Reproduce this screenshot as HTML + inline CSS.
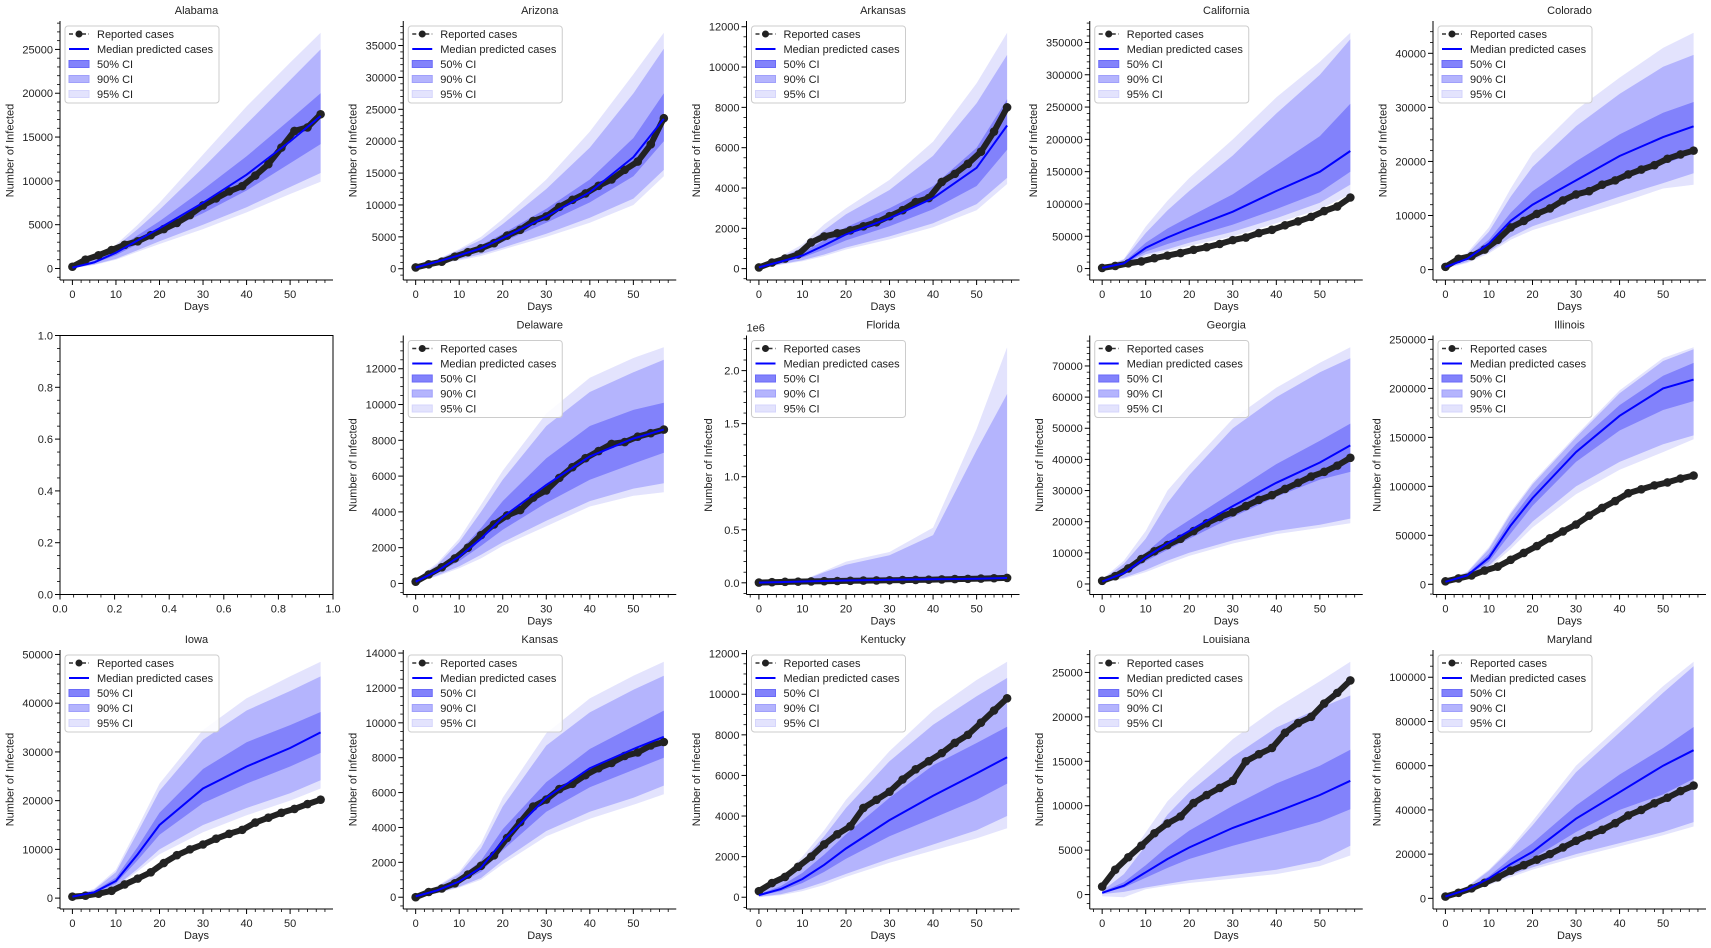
<!DOCTYPE html>
<html><head><meta charset="utf-8">
<style>
body{margin:0;background:#fff;}
svg{display:block;font-family:"Liberation Sans",sans-serif;}
</style></head>
<body>
<svg id="fig" width="1711" height="948" viewBox="0 0 1711 948" xmlns="http://www.w3.org/2000/svg"></svg>
<script>
// Days at which band/median values are sampled, and days for reported cases
const bandDays = [0,5,10,15,20,30,40,50,57];
const repDays = [0,3,6,9,12,15,18,21,24,27,30,33,36,39,42,45,48,51,54,57];
const xTicks = [0,10,20,30,40,50];

const stateNames = ["Alabama","Arizona","Arkansas","California","Colorado","Delaware","Florida","Georgia","Illinois","Iowa","Kansas","Kentucky","Louisiana","Maryland"];
const stateCols = [0,1,2,3,4,1,2,3,4,0,1,2,3,4];
const stateRows = [0,0,0,0,0,1,1,1,1,2,2,2,2,2];
const yTickStep = [5000,5000,2000,50000,10000,2000,500000,10000,50000,10000,2000,2000,5000,20000];

const reported = [
[200,1000,1500,2100,2700,3100,3800,4500,5200,6100,7200,8000,8800,9400,10600,11900,13800,15700,16100,17600],
[200,700,1100,1900,2600,3200,4000,5200,6100,7500,8200,9700,10800,11800,13000,14000,15500,16800,19500,23600],
[60,300,500,700,1300,1600,1750,1900,2100,2300,2600,2900,3300,3500,4300,4700,5200,5800,6800,8000],
[1000,4000,8000,11000,16000,20000,24000,29000,33000,38000,44000,48000,55000,60000,67000,73000,80000,89000,96000,110000],
[500,2000,2500,3700,5500,7800,9000,10300,11300,12800,13900,14500,15700,16500,17600,18500,19300,20500,21300,22000],
[100,500,900,1400,2000,2700,3300,3800,4100,4800,5200,5900,6500,7000,7400,7800,7900,8200,8400,8600],
[2000,6000,9000,11000,13000,15000,17000,19000,21000,22000,24000,26000,27000,29000,32000,35000,37000,40000,43000,46000],
[1000,2500,5000,8000,10500,12500,14500,17000,19500,21500,23000,25000,27000,28500,30500,32500,34500,36000,38000,40500],
[3000,6000,9000,14000,18000,25000,32000,39000,47000,54000,61000,70000,78000,85000,93000,97000,101000,104000,108000,111000],
[300,500,900,1500,2800,4000,5300,7200,8800,10000,11000,12200,13200,14000,15500,16500,17500,18300,19300,20200],
[0,300,500,800,1300,1800,2400,3400,4300,5200,5600,6200,6500,7000,7400,7700,8100,8300,8700,8900],
[300,700,1000,1500,2000,2600,3100,3500,4400,4800,5200,5800,6300,6700,7100,7600,8000,8600,9200,9800],
[900,2800,4200,5500,6900,8000,8800,10300,11200,12000,12800,15000,15800,16500,18200,19300,20000,21500,22700,24100],
[800,2500,4500,7000,9500,12500,15000,17500,20000,23000,26000,28500,31000,34000,37500,40000,43000,45500,48500,51000]
];
const median = [
[100,700,1800,3200,4600,7500,10700,14500,17400],
[200,1100,2100,3200,4800,8200,12000,17500,23500],
[60,350,650,1150,1700,2500,3500,5000,7100],
[1000,8000,32000,48000,62000,88000,120000,150000,182000],
[500,2000,4800,9000,12000,16500,21000,24500,26500],
[100,700,1500,2500,3700,5500,7100,8100,8600],
[2000,7000,12000,17000,22000,28000,33000,38000,45000],
[800,3500,8500,13000,17000,25000,32500,39000,44500],
[2500,9000,27000,60000,88000,135000,172000,200000,209000],
[300,1200,3500,9000,15000,22500,27000,30800,34000],
[50,400,900,1700,3200,5700,7400,8500,9200],
[100,400,900,1600,2400,3800,5000,6100,6900],
[200,1000,2500,4000,5300,7500,9300,11200,12800],
[800,4000,9000,15500,21000,36000,48000,60000,67000]
];
const hi50 = [
[150,900,2100,3800,5400,9000,12800,17000,20000],
[250,1200,2400,3700,5500,9400,14000,20500,27500],
[80,420,800,1400,2050,3000,4100,6000,8400],
[1200,10000,40000,62000,80000,115000,160000,205000,255000],
[600,2300,5500,10500,14500,20000,25000,29000,31000],
[150,850,1800,3100,4600,7000,8800,9700,10100],
[2400,8400,14400,20400,26400,33600,39600,45600,54000],
[1000,4200,10000,16000,20500,29500,38500,46000,51500],
[3000,10500,31000,66000,95000,143000,183000,213000,226000],
[350,1400,4200,10500,17500,26500,32000,35500,38200],
[80,480,1100,2100,3900,6600,8500,9800,10700],
[150,550,1200,2100,3100,4900,6500,7600,8400],
[300,1400,3300,5400,7200,10000,12500,14500,16300],
[900,4500,10000,18000,25000,42000,56000,68000,77500]
];
const lo50 = [
[100,600,1500,2800,4000,6300,8900,12000,14200],
[150,1000,1900,2900,4200,7200,10400,14500,20000],
[50,300,550,950,1400,2100,2950,4100,5900],
[800,6500,26000,38000,48000,68000,92000,118000,150000],
[400,1800,4200,7800,10300,13500,16500,19500,21500],
[80,600,1250,2100,3000,4500,5800,6700,7300],
[1600,5600,9600,13600,17600,22400,26400,30400,36000],
[700,3000,7300,11000,14500,21500,28000,33500,36000],
[2200,8000,23000,52000,80000,125000,157000,178000,187000],
[250,1000,3000,7800,13000,19500,23500,27000,29800],
[40,350,800,1450,2700,4900,6300,7300,8000],
[80,300,700,1250,1900,3000,3900,4800,5600],
[150,800,1900,3000,4000,5500,6800,8200,9600],
[700,3500,8000,13500,18000,30000,40000,47000,54000]
];
const hi90 = [
[200,1100,2500,4500,6700,11500,16500,21500,25000],
[300,1400,2900,4500,7000,12500,19000,27500,34500],
[100,550,1050,1900,2700,3900,5600,8200,10600],
[1500,14000,55000,90000,120000,175000,240000,300000,355000],
[700,2800,7000,13500,19000,26500,32500,37500,39700],
[200,1050,2300,4000,5800,8800,10700,11800,12500],
[3000,10000,20000,100000,170000,260000,450000,1250000,1780000],
[1300,6500,14500,26000,35000,50000,60000,68000,72500],
[3500,12000,36000,72000,102000,150000,195000,228000,240000],
[450,1700,5300,13500,22000,32500,38500,42500,45500],
[120,600,1350,2800,5200,8700,10600,11900,12700],
[200,800,1800,3000,4400,6700,8500,9900,10800],
[400,2300,5500,9000,11500,15500,18800,21000,22400],
[1000,5000,12500,22000,33000,57000,75000,93000,105000]
];
const lo90 = [
[50,450,1100,2100,3100,5000,7000,9300,10900],
[100,800,1500,2300,3300,5500,8000,11000,15500],
[30,220,420,700,1050,1600,2250,3200,4500],
[600,5500,22000,30000,40000,57000,78000,102000,130000],
[300,1400,3300,6000,8000,10800,13500,16000,17800],
[60,450,950,1600,2300,3500,4600,5300,5600],
[1000,4000,8000,10000,12000,15000,18000,20000,22000],
[500,2000,4500,7500,10000,14000,17000,19000,21000],
[1800,7000,19000,40000,64000,100000,125000,143000,152000],
[200,800,2400,6000,10000,15000,18500,21500,24200],
[20,250,600,1100,2100,3800,4900,5700,6400],
[20,150,400,750,1150,1900,2600,3300,4000],
[50,300,800,1200,1600,2200,2800,3800,5500],
[600,3000,6500,10500,14000,20000,25000,30000,34500]
];
const hi95 = [
[250,1200,2700,5000,7500,13000,18500,23500,26900],
[350,1500,3100,5000,7800,14000,21500,30500,37000],
[120,600,1200,2200,3000,4400,6300,9200,11700],
[1700,15000,65000,105000,140000,200000,265000,320000,365000],
[800,3100,7800,15000,21500,29500,35500,41000,43800],
[250,1150,2500,4400,6300,9500,11500,12600,13200],
[3500,12000,25000,110000,200000,290000,520000,1450000,2220000],
[1500,7500,17000,30000,38000,53000,63000,71000,76000],
[3800,13000,38000,74000,104000,152000,198000,231000,242000],
[500,1900,5800,14500,23500,34500,41000,45500,48500],
[150,650,1450,3100,5700,9400,11400,12700,13500],
[250,900,2000,3300,4800,7200,9200,10700,11600],
[500,3500,7000,10500,13000,17500,21000,24000,26200],
[1100,5500,13000,23000,35000,60000,78000,96000,107000]
];
const lo95 = [
[30,400,1000,1900,2800,4500,6400,8500,9900],
[80,700,1300,2000,3000,5000,7200,10000,14500],
[20,190,370,620,950,1450,2050,2900,4200],
[500,5000,19000,27000,35000,50000,70000,92000,115000],
[250,1200,3000,5500,7300,9800,12300,15000,15700],
[40,400,850,1400,2100,3200,4300,4900,5100],
[800,3000,6000,8000,10000,12000,15000,17000,19000],
[400,1700,3800,6500,9000,13000,16000,18000,19500],
[1600,6500,17000,36000,58000,92000,117000,135000,148000],
[180,700,2200,5500,9000,13500,17000,20000,22500],
[10,220,550,1000,1900,3500,4500,5300,5900],
[0,100,300,600,1000,1700,2300,2900,3400],
[-200,-300,600,1000,1300,1800,2300,3200,4400],
[500,2800,6000,9500,13000,18500,23500,28500,32500]
];

const NS = "http://www.w3.org/2000/svg";
const svg = document.getElementById('fig');
const AX_W = 273, AX_H = 259;
function colLeft(c){ return 60 + 343.25*c; }
function rowTop(r){ return 21 + 314.5*r; }
function mk(tag, attrs, parent){
  const e = document.createElementNS(NS, tag);
  for (const k in attrs) e.setAttribute(k, attrs[k]);
  (parent||svg).appendChild(e);
  return e;
}
function txt(s, attrs, parent){ const t = mk('text', attrs, parent); t.textContent = s; return t; }

function drawEmpty(){
  const L = colLeft(0), T = rowTop(1);
  const g = mk('g', {});
  
  
  mk('rect', {x:L, y:T, width:AX_W, height:AX_H, fill:'none', stroke:'#000', 'stroke-width':1}, g);
  for (let i=0;i<=20;i++){
    const v = i*0.05, major = i%4===0;
    const len = major?5:3;
    const x = L + v*AX_W, y = T + AX_H - v*AX_H;
    mk('line', {x1:x, y1:T+AX_H, x2:x, y2:T+AX_H+len, stroke:'#000', 'stroke-width':major?1:0.8}, g);
    mk('line', {x1:L-len, y1:y, x2:L, y2:y, stroke:'#000', 'stroke-width':major?1:0.8}, g);
    if (major){
      txt(v.toFixed(1), {x:x, y:T+AX_H+18, 'text-anchor':'middle', 'font-size':11, fill:'#222'}, g);
      txt(v.toFixed(1), {x:L-7, y:y+4, 'text-anchor':'end', 'font-size':11, fill:'#222'}, g);
    }
  }
}

function drawPanel(i){
  const L = colLeft(stateCols[i]), T = rowTop(stateRows[i]);
  const g = mk('g', {});
  
  
  let dmin = Math.min(...lo95[i], ...reported[i]);
  let dmax = Math.max(...hi95[i], ...reported[i]);
  const rng = dmax - dmin;
  const ymin = dmin - 0.05*rng, ymax = dmax + 0.05*rng;
  const xs = d => L + (d + 2.85) / 62.7 * AX_W;
  const ys = v => T + AX_H - (v - ymin) / (ymax - ymin) * AX_H;

  function band(hi, lo, fill, name){
    let p = bandDays.map((d,k)=>xs(d).toFixed(1)+','+ys(hi[k]).toFixed(1));
    for (let k=bandDays.length-1;k>=0;k--) p.push(xs(bandDays[k]).toFixed(1)+','+ys(lo[k]).toFixed(1));
    const e = mk('polygon', {points:p.join(' '), fill:fill, stroke:'none'}, g);
    
    
  }
  band(hi95[i], lo95[i], '#e3e3fd', 'ci95-band');
  band(hi90[i], lo90[i], '#b4b4fd', 'ci90-band');
  band(hi50[i], lo50[i], '#8282fb', 'ci50-band');

  // reported cases
  const rp = repDays.map((d,k)=>xs(d).toFixed(1)+','+ys(reported[i][k]).toFixed(1)).join(' ');
  const rl = mk('polyline', {points:rp, fill:'none', stroke:'#222', 'stroke-width':6, 'stroke-linejoin':'round', 'stroke-linecap':'round'}, g);
  
  
  repDays.forEach((d,k)=>{
    const c = mk('circle', {cx:xs(d), cy:ys(reported[i][k]), r:4.3, fill:'#222'}, g);
    
    
  });
  // median
  const mp = bandDays.map((d,k)=>xs(d).toFixed(1)+','+ys(median[i][k]).toFixed(1)).join(' ');
  const ml = mk('polyline', {points:mp, fill:'none', stroke:'#0000ff', 'stroke-width':2}, g);
  
  

  // spines
  mk('line', {x1:L, y1:T, x2:L, y2:T+AX_H, stroke:'#000', 'stroke-width':1}, g);
  mk('line', {x1:L, y1:T+AX_H, x2:L+AX_W, y2:T+AX_H, stroke:'#000', 'stroke-width':1}, g);

  // x ticks
  for (let d=-2; d<=58; d+=2){
    const major = d%10===0 && d>=0 && d<=50;
    mk('line', {x1:xs(d), y1:T+AX_H, x2:xs(d), y2:T+AX_H+(major?5:3), stroke:'#000', 'stroke-width':major?1:0.8}, g);
  }
  xTicks.forEach(d=>txt(String(d), {x:xs(d), y:T+AX_H+18, 'text-anchor':'middle', 'font-size':11, fill:'#222'}, g));
  const xl = txt('Days', {x:L+AX_W/2, y:T+AX_H+30, 'text-anchor':'middle', 'font-size':11, fill:'#222'}, g);
  
  

  // y ticks
  const step = yTickStep[i];
  const lead = String(step)[0];
  const minor = lead==='2' ? step/4 : step/5;
  const isF = stateNames[i]==='Florida';
  let maxw = 0;
  for (let v = Math.ceil(ymin/minor)*minor; v <= ymax; v += minor){
    const isMaj = Math.abs(v/step - Math.round(v/step)) < 1e-6;
    mk('line', {x1:L-(isMaj?5:3), y1:ys(v), x2:L, y2:ys(v), stroke:'#000', 'stroke-width':isMaj?1:0.8}, g);
    if (isMaj){
      const s = isF ? (v/1e6).toFixed(1) : String(Math.round(v));
      maxw = Math.max(maxw, s.length*6.1);
      txt(s, {x:L-7, y:ys(v)+4, 'text-anchor':'end', 'font-size':11, fill:'#222'}, g);
    }
  }
  if (isF) txt('1e6', {x:L, y:T-4, 'font-size':11, fill:'#222'}, g);
  const yx = L - 7 - maxw - 12;
  const yl = txt('Number of Infected', {x:yx, y:T+AX_H/2, 'text-anchor':'middle', 'font-size':11, fill:'#222', transform:`rotate(-90 ${yx} ${T+AX_H/2})`, 'dominant-baseline':'middle'}, g);
  
  

  // title
  const tt = txt(stateNames[i], {x:L+AX_W/2, y:T-7, 'text-anchor':'middle', 'font-size':11, fill:'#222'}, g);
  
  

  // legend
  const lg = mk('g', {}, g);
  
  
  const lx = L+5, ly = T+5;
  mk('rect', {x:lx, y:ly, width:154, height:77, rx:3, fill:'#fff', 'fill-opacity':0.85, stroke:'#ccc', 'stroke-width':1}, lg);
  const labels = ['Reported cases','Median predicted cases','50% CI','90% CI','95% CI'];
  labels.forEach((s,k)=>{
    const cy = ly + 8 + 15*k;
    if (k===0){
      mk('line', {x1:lx+4, y1:cy, x2:lx+24, y2:cy, stroke:'#333', 'stroke-width':1.5, 'stroke-dasharray':'4 2.5'}, lg);
      mk('circle', {cx:lx+14, cy:cy, r:3.5, fill:'#222'}, lg);
    } else if (k===1){
      mk('line', {x1:lx+4, y1:cy, x2:lx+24, y2:cy, stroke:'#0000ff', 'stroke-width':2}, lg);
    } else {
      const f = ['#8282fb','#b4b4fd','#e3e3fd'][k-2];
      const st = ['#6a6af8','#a0a0fb','#d5d5fc'][k-2];
      mk('rect', {x:lx+4, y:cy-3.5, width:20, height:7, fill:f, stroke:st, 'stroke-width':1}, lg);
    }
    const t = txt(s, {x:lx+32, y:cy+4, 'font-size':11, fill:'#222'}, lg);
    
    
  });
}

drawEmpty();
for (let i=0;i<stateNames.length;i++) drawPanel(i);
</script>
</body></html>
